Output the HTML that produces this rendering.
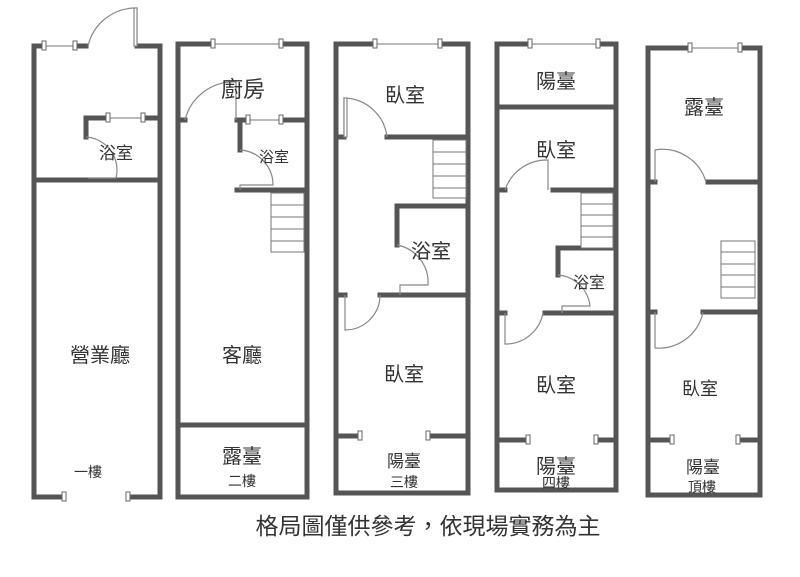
<!DOCTYPE html>
<html><head><meta charset="utf-8"><style>
html,body{margin:0;padding:0;background:#fff;width:800px;height:577px;overflow:hidden}
svg{display:block}
text{font-family:"Liberation Sans","Noto Sans CJK TC",sans-serif;fill:#333}
</style></head><body>
<svg width="800" height="577" viewBox="0 0 800 577">
<g stroke="#555" stroke-width="5" fill="none" stroke-linecap="square">
<path d="M160,46 V497 H128 M64,497 H34 V46 H44"/>
<path d="M75,46 H86 M137,46 H160"/>
<path d="M34,180 H160"/>
<path d="M86,137 V118 H108 M143,118 H160"/>
<path d="M178,497 V44 H213 M281,44 H307 V497 H178"/>
<path d="M178,425 H307"/>
<path d="M178,120 H185 M240,120 V150 M237,120 H248 M281,120 H307"/>
<path d="M237,190 H307"/>
<path d="M336,493 V44 H375 M440,44 H468 V493 H336"/>
<path d="M336,137 H344 M387,137 H468"/>
<path d="M397,245 V206 H468"/>
<path d="M336,295 H345 M380,295 H398 M397,295 H468"/>
<path d="M336,436 H360 M428,436 H468"/>
<path d="M497,490 V44 H530 M598,44 H616 V490 H497"/>
<path d="M497,107 H616"/>
<path d="M497,190 H505 M553,190 H616"/>
<path d="M558,275 V248 H616"/>
<path d="M497,313 H505 M545,313 H616"/>
<path d="M497,440 H528 M596,440 H616"/>
<path d="M648,495 V48 H690 M740,48 H760 V495 H648"/>
<path d="M648,182 H655 M708,182 H760"/>
<path d="M648,312 H655 M703,312 H760"/>
<path d="M648,440 H672 M738,440 H760"/>
</g>
<g stroke="#777" stroke-width="1" fill="none">
<path d="M44,46 H75 M108,118 H143 M213,44 H281 M248,120 H281 M375,44 H440 M530,44 H598 M690,48 H740"/>
</g>
<g fill="#fff" stroke="#666" stroke-width="1">
<rect x="42" y="41" width="4" height="9"/><rect x="73" y="41" width="4" height="9"/>
<rect x="106" y="113" width="4" height="9"/><rect x="141" y="113" width="4" height="9"/>
<rect x="211" y="39" width="4" height="9"/><rect x="279" y="39" width="4" height="9"/>
<rect x="246" y="115" width="4" height="9"/><rect x="279" y="115" width="4" height="9"/>
<rect x="373" y="39" width="4" height="9"/><rect x="438" y="39" width="4" height="9"/>
<rect x="528" y="39" width="4" height="9"/><rect x="596" y="39" width="4" height="9"/>
<rect x="688" y="43" width="4" height="9"/><rect x="738" y="43" width="4" height="9"/>
<rect x="358" y="431" width="4" height="9"/><rect x="426" y="431" width="4" height="9"/>
<rect x="526" y="435" width="4" height="9"/><rect x="594" y="435" width="4" height="9"/>
<rect x="670" y="435" width="4" height="9"/><rect x="736" y="435" width="4" height="9"/>
<rect x="62" y="492" width="4" height="9"/><rect x="126" y="492" width="4" height="9"/>
</g>
<g stroke="#888" stroke-width="1.2" fill="none">
<path d="M137,46 V8 A49,49 0 0 0 88,46"/><rect x="134" y="8" width="3" height="38" fill="#fff"/>
<path d="M86,137 A33,33 0 0 1 116,178 H88"/>
<path d="M185,120 A50,50 0 0 1 236,82 V120"/>
<path d="M240,150 A35,35 0 0 1 273,185 H240 V190"/>
<path d="M344,137 V98 A44,44 0 0 1 387,137"/><rect x="344" y="98" width="3" height="39" fill="#fff"/>
<path d="M397,245 A38,38 0 0 1 428,285 H400 V295"/>
<path d="M345,295 V330 A35,35 0 0 0 380,295"/>
<path d="M505,190 A44,44 0 0 1 548,160 V190"/>
<path d="M558,275 A35,35 0 0 1 590,306 H562 V313"/>
<path d="M505,313 V344 A38,38 0 0 0 543,313"/>
<path d="M655,182 V150 A45,45 0 0 1 706,182"/>
<path d="M655,312 V348 A45,45 0 0 0 703,312"/>
</g>
<g stroke="#777" stroke-width="1" fill="#fff">
<rect x="271" y="193" width="33" height="59"/><path d="M271,205 H304 M271,217 H304 M271,229 H304 M271,241 H304"/>
<rect x="433" y="140" width="33" height="58"/><path d="M433,152 H466 M433,164 H466 M433,176 H466 M433,188 H466"/>
<rect x="581" y="193" width="32" height="55"/><path d="M581,204 H613 M581,215 H613 M581,226 H613 M581,237 H613"/>
<rect x="721" y="241" width="34" height="57"/><path d="M721,252 H755 M721,264 H755 M721,275 H755 M721,287 H755"/>
</g>
<g font-size="20" text-anchor="middle">
<text x="100" y="362">營業廳</text>
<text x="116" y="159" font-size="17">浴室</text>
<text x="243" y="97" font-size="22">廚房</text>
<text x="274" y="162" font-size="15">浴室</text>
<text x="242" y="362">客廳</text>
<text x="242" y="463">露臺</text>
<text x="405" y="102">臥室</text>
<text x="431" y="258">浴室</text>
<text x="404" y="381">臥室</text>
<text x="404" y="467" font-size="17">陽臺</text>
<text x="556" y="88">陽臺</text>
<text x="556" y="157">臥室</text>
<text x="589" y="288" font-size="16">浴室</text>
<text x="556" y="392">臥室</text>
<text x="556" y="473">陽臺</text>
<text x="704" y="114">露臺</text>
<text x="700" y="395" font-size="18">臥室</text>
<text x="703" y="473" font-size="17">陽臺</text>
</g>
<g font-size="14" text-anchor="middle">
<text x="88" y="477">一樓</text>
<text x="242" y="486">二樓</text>
<text x="404" y="487">三樓</text>
<text x="556" y="488">四樓</text>
<text x="702" y="492">頂樓</text>
</g>
<text x="428" y="534" font-size="23" text-anchor="middle">格局圖僅供參考，依現場實務為主</text>
</svg>
</body></html>
